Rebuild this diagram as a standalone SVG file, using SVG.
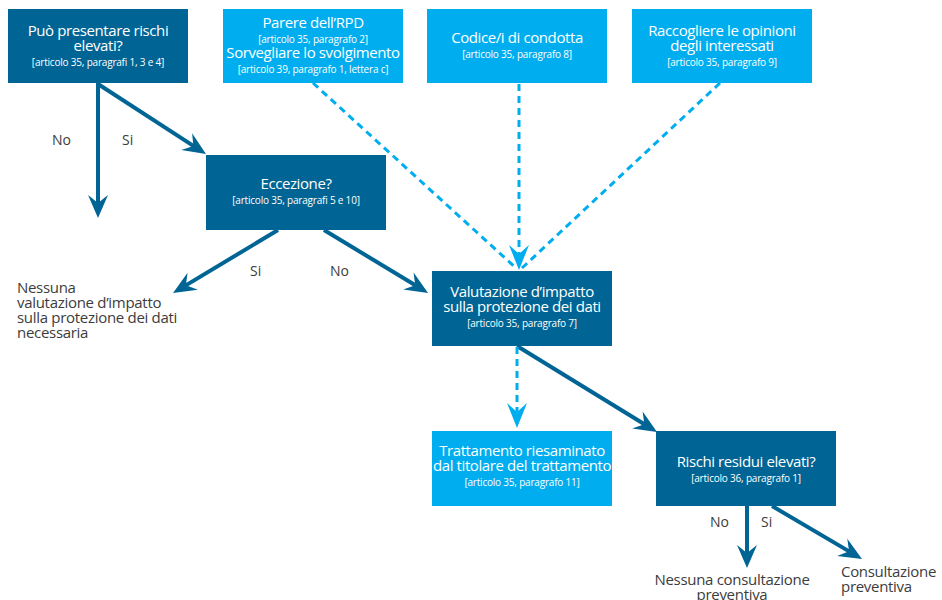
<svg xmlns="http://www.w3.org/2000/svg" width="942" height="600" viewBox="0 0 942 600">
<defs>
<style>
.dark{fill:#006595}
.light{fill:#00AEEF}
.t{font-family:"Open Sans","Noto Sans",sans-serif;fill:#ffffff;text-anchor:middle;font-size:15px;letter-spacing:-0.4px}
.s{font-family:"Open Sans","Noto Sans",sans-serif;fill:#ffffff;text-anchor:middle;font-size:10px;letter-spacing:-0.2px}
.lbl{font-family:"Open Sans","Noto Sans",sans-serif;fill:#3c3c3c;font-size:14px}
.out{font-family:"Open Sans","Noto Sans",sans-serif;fill:#3c3c3c;font-size:15px;letter-spacing:-0.3px}
.solid{stroke:#006595;stroke-width:4;fill:none}
.dash{stroke:#00AEEF;stroke-width:3;fill:none;stroke-dasharray:7 5}
</style>
<marker id="ad" markerUnits="userSpaceOnUse" orient="auto" markerWidth="40" markerHeight="40" refX="0" refY="0" viewBox="-20 -20 40 40" overflow="visible">
<path d="M10,0 L-13,-10 L-5,0 L-13,10 Z" fill="#006595"/>
</marker>
<marker id="al" markerUnits="userSpaceOnUse" orient="auto" markerWidth="40" markerHeight="40" refX="0" refY="0" viewBox="-20 -20 40 40" overflow="visible">
<path d="M10,0 L-15,-10 L-6,0 L-15,10 Z" fill="#00AEEF"/>
</marker>
</defs>
<rect width="942" height="600" fill="#ffffff"/>

<g id="connectors">
<line class="solid" x1="98" y1="83" x2="98" y2="208" marker-end="url(#ad)"/>
<line class="solid" x1="98" y1="84" x2="197.6" y2="148.6" marker-end="url(#ad)"/>
<line class="solid" x1="278" y1="230" x2="181.6" y2="287.9" marker-end="url(#ad)"/>
<line class="solid" x1="324" y1="230" x2="419.5" y2="287.8" marker-end="url(#ad)"/>
<line class="solid" x1="517" y1="346" x2="648.5" y2="426.8" marker-end="url(#ad)"/>
<line class="solid" x1="747" y1="506" x2="747" y2="558" marker-end="url(#ad)"/>
<line class="solid" x1="772" y1="506" x2="853.4" y2="553.9" marker-end="url(#ad)"/>
<line class="dash" x1="313" y1="83" x2="516" y2="268"/>
<line class="dash" x1="720" y1="83" x2="522" y2="268"/>
<line class="dash" x1="519" y1="84" x2="519" y2="260" marker-end="url(#al)"/>
<line class="dash" x1="517" y1="347" x2="517" y2="418" marker-end="url(#al)"/>
</g>

<g id="n-rischi-elevati">
<rect class="dark" x="8" y="9" width="180" height="74"/>
<text class="t" x="98" y="36">Può presentare rischi</text>
<text class="t" x="98" y="51">elevati?</text>
<text class="s" x="98" y="66">[articolo 35, paragrafi 1, 3 e 4]</text>
</g>

<g id="n-rpd">
<rect class="light" x="223" y="9" width="180" height="74"/>
<text class="t" x="313" y="28">Parere dell’RPD</text>
<text class="s" x="313" y="43">[articolo 35, paragrafo 2]</text>
<text class="t" x="313" y="58">Sorvegliare lo svolgimento</text>
<text class="s" x="313" y="73">[articolo 39, paragrafo 1, lettera c]</text>
</g>

<g id="n-codice">
<rect class="light" x="427" y="9" width="180" height="74"/>
<text class="t" x="517" y="43">Codice/i di condotta</text>
<text class="s" x="517" y="58">[articolo 35, paragrafo 8]</text>
</g>

<g id="n-opinioni">
<rect class="light" x="632" y="9" width="180" height="74"/>
<text class="t" x="722" y="36">Raccogliere le opinioni</text>
<text class="t" x="722" y="51">degli interessati</text>
<text class="s" x="722" y="66">[articolo 35, paragrafo 9]</text>
</g>

<g id="n-eccezione">
<rect class="dark" x="206" y="155" width="180" height="75"/>
<text class="t" x="296" y="189">Eccezione?</text>
<text class="s" x="296" y="204">[articolo 35, paragrafi 5 e 10]</text>
</g>

<g id="n-nessuna-valutazione">
<text class="out" x="17" y="293">Nessuna</text>
<text class="out" x="17" y="308">valutazione d’impatto</text>
<text class="out" x="17" y="323">sulla protezione dei dati</text>
<text class="out" x="17" y="338">necessaria</text>
</g>

<g id="n-valutazione">
<rect class="dark" x="432" y="271" width="180" height="75"/>
<text class="t" x="522" y="297">Valutazione d’impatto</text>
<text class="t" x="522" y="312">sulla protezione dei dati</text>
<text class="s" x="522" y="327">[articolo 35, paragrafo 7]</text>
</g>

<g id="n-trattamento">
<rect class="light" x="432" y="431" width="180" height="75"/>
<text class="t" x="522" y="456">Trattamento riesaminato</text>
<text class="t" x="522" y="471">dal titolare del trattamento</text>
<text class="s" x="522" y="486">[articolo 35, paragrafo 11]</text>
</g>

<g id="n-rischi-residui">
<rect class="dark" x="656" y="431" width="180" height="75"/>
<text class="t" x="746" y="467">Rischi residui elevati?</text>
<text class="s" x="746" y="482">[articolo 36, paragrafo 1]</text>
</g>

<g id="n-nessuna-consultazione">
<text class="out" x="732" y="585" text-anchor="middle">Nessuna consultazione</text>
<text class="out" x="732" y="600" text-anchor="middle">preventiva</text>
</g>

<g id="n-consultazione">
<text class="out" x="841" y="577">Consultazione</text>
<text class="out" x="841" y="592">preventiva</text>
</g>

<g id="labels">
<text class="lbl" x="52" y="145">No</text>
<text class="lbl" x="122" y="145">Si</text>
<text class="lbl" x="250" y="276">Si</text>
<text class="lbl" x="330" y="276">No</text>
<text class="lbl" x="710" y="527">No</text>
<text class="lbl" x="761" y="527">Si</text>
</g>
</svg>
